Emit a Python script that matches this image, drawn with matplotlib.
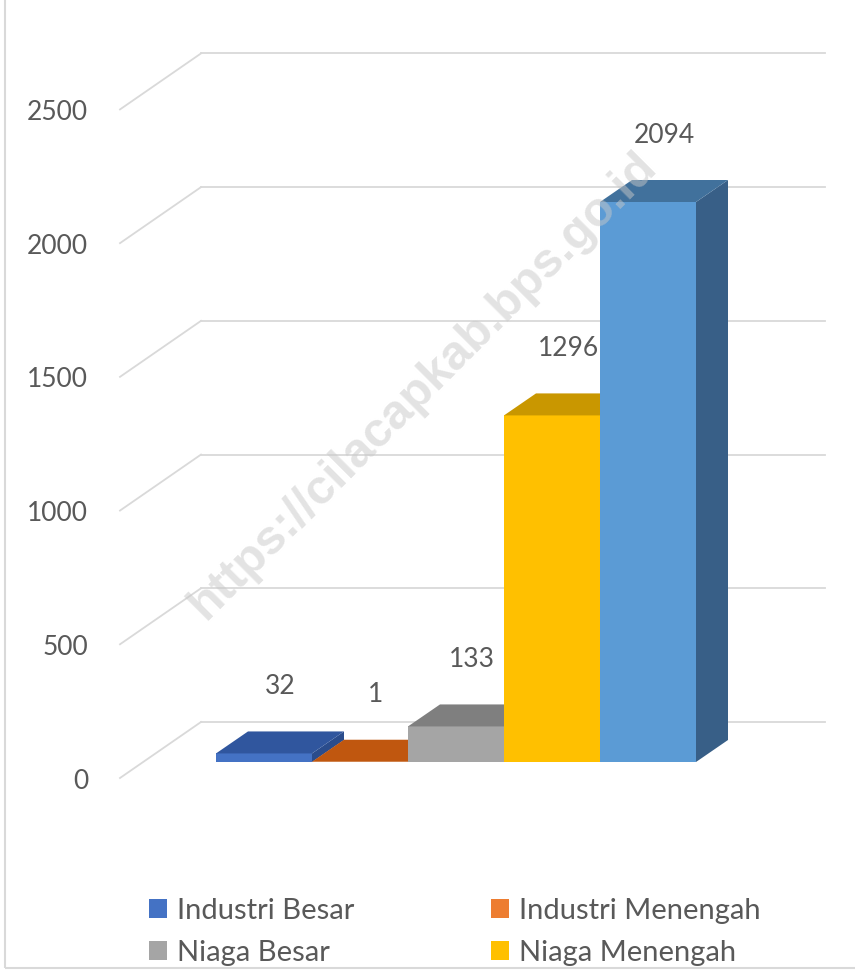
import matplotlib
matplotlib.use("Agg")
import matplotlib.pyplot as plt
from matplotlib.patches import Polygon, Rectangle, Patch

# ── data ──────────────────────────────────────────────────────────────────────
categories = ["Industri Besar", "Industri Menengah", "Niaga Besar",
              "Niaga Menengah", "Lainnya"]
values = [32, 1, 133, 1296, 2094]
legend_labels = categories[:4]
y_ticks = [0, 500, 1000, 1500, 2000, 2500]

front_col = ["#4472C4", "#C55A11", "#A5A5A5", "#FFC000", "#5B9BD5"]
top_col = ["#30569E", "#C0570F", "#7F7F7F", "#C99700", "#41719C"]
side_col = ["#2A4C8C", "#A84C0E", "#6E6E6E", "#B08400", "#385F87"]
legend_col = ["#4472C4", "#ED7D31", "#A5A5A5", "#FFC000"]

# ── pseudo-3d geometry (pixel-derived, expressed in data units) ──────────────
W, H = 855, 972
PX_CAT = 96.0              # pixels per category
PX_VAL = 560.0 / 2094.0    # pixels per value unit
X0, Y0 = 264.0, 762.0      # pixel of category 0 centre / value 0 (bar plane)

DX, DY = 32 / PX_CAT, 22 / PX_VAL          # bar depth
WX, WY = 58 / PX_CAT, 40 / PX_VAL          # bar plane -> back wall
FX, FY = -81 / PX_CAT, -56 / PX_VAL        # back wall -> front floor edge
WALL_L, WALL_R = (201 - X0) / PX_CAT, (825 - X0) / PX_CAT

TXT = "#595959"
plt.rcParams["font.family"] = ["Lato", "DejaVu Sans"]

fig = plt.figure(figsize=(W / 100, H / 100), dpi=100)
ax = fig.add_axes([0, 0, 1, 1])
ax.set_xlim(-X0 / PX_CAT, (W - X0) / PX_CAT)
ax.set_ylim((Y0 - H) / PX_VAL, Y0 / PX_VAL)
ax.axis("off")

# chart border
fig.patches.append(Rectangle((5, 4), W - 3, H - 2, transform=None,
                             fill=False, ec="#D9D9D9", lw=1.5))

# gridlines: back wall + diagonal to front, with tick labels
for t in y_ticks:
    yb = t + WY
    ax.plot([WALL_L, WALL_R], [yb, yb], color="#D9D9D9", lw=1.3, zorder=1)
    ax.plot([WALL_L, WALL_L + FX], [yb, yb + FY], color="#D9D9D9", lw=1.3,
            zorder=1)
    ax.annotate(str(t), (WALL_L + FX, yb + FY), xytext=(-32, -3),
                textcoords="offset pixels", ha="right", va="center",
                fontsize=19, color=TXT)

# bars
for i, v in enumerate(values):
    l, r = i - 0.5, i + 0.5
    ax.add_patch(Polygon([(r, 0), (r + DX, DY), (r + DX, v + DY), (r, v)],
                         closed=True, fc=side_col[i], ec="none", zorder=2))
    ax.add_patch(Rectangle((l, 0), 1, v, fc=front_col[i], ec="none", zorder=3))
    ax.add_patch(Polygon([(l, v), (r, v), (r + DX, v + DY), (l + DX, v + DY)],
                         closed=True, fc=top_col[i], ec="none", zorder=3))
    ax.annotate(str(v), (i + DX / 2, v + DY), xytext=(0, 45),
                textcoords="offset pixels", ha="center", va="center",
                fontsize=19, color=TXT, zorder=5)

# watermark
fig.text(0.495, 0.603, "https://cilacapkab.bps.go.id", rotation=45,
         ha="center", va="center", fontsize=35, fontweight="bold",
         family="Liberation Sans", color="#C8C8C8", alpha=0.5, zorder=10)

# legend (row-major order like the original)
order = [0, 2, 1, 3]
handles = [Patch(fc=legend_col[k], ec="none") for k in order]
fig.legend(handles, [legend_labels[k] for k in order], ncol=2,
           loc="upper left", bbox_to_anchor=(149 / W, 1 - 898 / H),
           frameon=False, borderpad=0, borderaxespad=0,
           fontsize=21, labelcolor=TXT, handlelength=0.6, handleheight=0.6,
           handletextpad=0.35, columnspacing=4.7, labelspacing=0.55)

fig.savefig("out.png", dpi=100)
